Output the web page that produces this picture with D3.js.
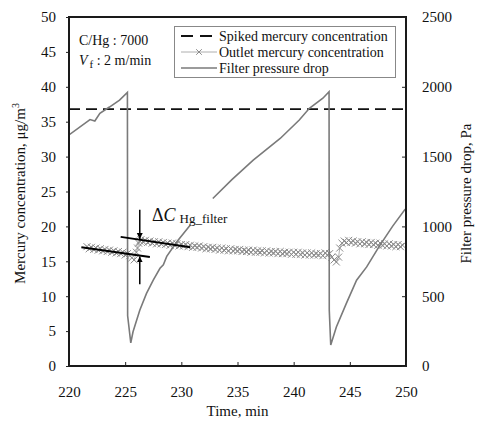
<!DOCTYPE html>
<meta charset="utf-8">
<style>
body { margin: 0; background: #fff; }
svg text { font-family: 'Liberation Serif', 'Times New Roman', 'DejaVu Serif', 'Noto Serif', serif; fill: #111; }
.tick text { font-size: 15px; }
.tick line { stroke: #222; }
.frame { fill: none; stroke: #1a1a1a; stroke-width: 2; }
.pdrop { fill: none; stroke: #7a7a7a; stroke-width: 1.6; }
.outlet { fill: none; stroke: #9a9a9a; stroke-width: 0.8; }
.mark { fill: none; stroke: #8c8c8c; stroke-width: 1; }
.spiked { stroke: #111; stroke-width: 1.8; stroke-dasharray: 11,6; }
.fit { stroke: #000; stroke-width: 2; }
.legendbox { fill: #fff; stroke: #888; stroke-width: 1; }
</style>
<body>
<script src="https://d3js.org/d3.v7.min.js"></script>
<script>

var width = 477,
    height = 426;

// filter pressure drop, Pa (null = gap in the logged trace)
var pdropTime = [220, 221.87, 222.3, 222.75, 223.6, 224.5, 225.2, 225.22, 225.5, 225.7, 226.3, 226.9, 227.5, 228.1, 228.4, 228.7, 229.6, 230.8, 231.8, 232.8, 234.5, 236.4, 238.8, 240.5, 241.4, 242.6, 243.15, 243.17, 243.3, 243.8, 244.7, 245.6, 246.5, 247.6, 248.8, 249.9, 250];
var pdropPa   = [1655, 1765, 1755, 1810, 1855, 1905, 1960, 360, 165, 245, 400, 520, 615, 700, 725, 785, 890, 1010, null, 1200, 1335, 1475, 1630, 1762, 1846, 1918, 1965, 400, 150, 280, 450, 615, 710, 855, 1000, 1120, 1125];

// outlet mercury concentration, ug/m3, logged every 0.2 min
var outletStep = 0.2;
var outletA0 = 221.6;
var outletA = [17.1, 16.8, 17.0, 16.7, 16.9, 16.6, 16.8, 16.5, 16.7, 16.4, 16.6, 16.3, 16.5, 16.2, 16.4, 16.1, 16.3, 15.9, 16.1, 15.8];
var outletB0 = 226.4;
var outletB = [18.1, 17.8, 18.0, 17.7, 17.9, 17.6, 17.8, 17.5, 17.8, 17.5, 17.7, 17.4, 17.6, 17.3, 17.6, 17.3, 17.5, 17.2, 17.4,
               17.2, 17.4, 17.1, 17.3, 17.0, 17.2, 17.0, 17.2, 16.9, 17.1, 16.8, 17.0, 16.8, 17.0, 16.7, 16.9, 16.6, 16.9, 16.6, 16.8, 16.5, 16.8, 16.5, 16.7, 16.5,
               16.7, 16.4, 16.6, 16.4, 16.6, 16.3, 16.6, 16.3, 16.5, 16.3, 16.5, 16.2, 16.5, 16.2, 16.4, 16.2, 16.4, 16.1, 16.4, 16.1, 16.3, 16.1, 16.3, 16.0, 16.3,
               16.0, 16.3, 16.0, 16.2, 15.9, 16.2, 15.9, 16.2, 15.9, 16.1, 15.9, 16.1, 15.8, 16.2, 15.9, 16.1];
var outletC0 = 244.5;
var outletC = [17.9, 17.7, 18.0, 17.7, 17.9, 17.6, 17.8, 17.5, 17.8, 17.5, 17.7, 17.4, 17.7, 17.4, 17.6, 17.3, 17.6, 17.3, 17.5, 17.2, 17.5, 17.2, 17.4, 17.1, 17.4, 17.1, 17.3];
// scattered readings right after each pulse cleaning
var jumpTime1 = [225.6, 225.8, 226.0, 226.1, 226.2, 226.3];
var jumpHg1   = [15.5, 15.2, 16.3, 16.9, 17.6, 17.9];
var jumpTime2 = [243.4, 243.6, 243.8, 244.0, 244.1, 244.3];
var jumpHg2   = [15.6, 15.2, 14.9, 15.6, 16.9, 17.6];

var spikedHg = 36.8;

// trend lines used for delta C
var fitBefore = [[221.1, 17.0], [227.2, 15.6]];
var fitAfter  = [[224.6, 18.5], [230.8, 17.0]];

var xTicks = [220, 225, 230, 235, 240, 245, 250];
var yTicksL = [0, 5, 10, 15, 20, 25, 30, 35, 40, 45, 50];
var yTicksR = [0, 500, 1000, 1500, 2000, 2500];

var legendLabels = ["Spiked mercury concentration", "Outlet mercury concentration", "Filter pressure drop"];

function run(t0, vals) {
  return vals.map((v, i) => [t0 + i * outletStep, v]);
}
var outlet = run(outletA0, outletA)
  .concat(jumpTime1.map((t, i) => [t, jumpHg1[i]]))
  .concat(run(outletB0, outletB))
  .concat(jumpTime2.map((t, i) => [t, jumpHg2[i]]))
  .concat(run(outletC0, outletC));

var x = d3.scaleLinear().domain([220, 250]).range([69, 406]);
var yL = d3.scaleLinear().domain([0, 50]).range([366, 17]);
var yR = d3.scaleLinear().domain([0, 2500]).range([366, 17]);

var svg = d3.select("body").append("svg")
    .attr("width", width)
    .attr("height", height);

svg.append("clipPath").attr("id", "plot")
  .append("rect")
    .attr("x", x(220)).attr("y", yL(50))
    .attr("width", x(250) - x(220)).attr("height", yL(0) - yL(50));

var plot = svg.append("g").attr("clip-path", "url(#plot)");

// spiked concentration
plot.append("line")
    .attr("class", "spiked")
    .attr("x1", x(220)).attr("x2", x(250))
    .attr("y1", yL(spikedHg)).attr("y2", yL(spikedHg));

// outlet concentration
var outletLine = d3.line().x(d => x(d[0])).y(d => yL(d[1]));
plot.append("path").datum(outlet)
    .attr("class", "outlet")
    .attr("d", outletLine);

var cross = d3.symbol(d3.symbolX).size(34);
plot.append("g").selectAll("path").data(outlet)
  .enter().append("path")
    .attr("class", "mark")
    .attr("transform", d => "translate(" + x(d[0]) + "," + yL(d[1]) + ")")
    .attr("d", cross);

// pressure drop
var pLine = d3.line()
    .defined(d => d != null)
    .x((d, i) => x(pdropTime[i])).y(d => yR(d));
plot.append("path").datum(pdropPa)
    .attr("class", "pdrop")
    .attr("d", pLine);

// trend lines
[fitBefore, fitAfter].forEach(f => {
  svg.append("line")
      .attr("class", "fit")
      .attr("x1", x(f[0][0])).attr("y1", yL(f[0][1]))
      .attr("x2", x(f[1][0])).attr("y2", yL(f[1][1]));
});

// delta C arrows
svg.append("defs").append("marker")
    .attr("id", "head")
    .attr("viewBox", "0 0 10 10")
    .attr("refX", 10).attr("refY", 5)
    .attr("markerWidth", 6).attr("markerHeight", 8)
    .attr("markerUnits", "userSpaceOnUse")
    .attr("orient", "auto")
  .append("path")
    .attr("d", "M0,0L10,5L0,10Z")
    .attr("fill", "#000");

var ax = x(226.3);
svg.append("line")
    .attr("x1", ax).attr("x2", ax)
    .attr("y1", yL(22.4)).attr("y2", yL(18.2))
    .attr("stroke", "#000").attr("stroke-width", 1.5)
    .attr("marker-end", "url(#head)");
svg.append("line")
    .attr("x1", ax).attr("x2", ax)
    .attr("y1", yL(11.7)).attr("y2", yL(15.7))
    .attr("stroke", "#000").attr("stroke-width", 1.5)
    .attr("marker-end", "url(#head)");

var dc = svg.append("text")
    .attr("x", 152).attr("y", 221)
    .style("font-size", "18px");
dc.append("tspan").text("\u0394");
dc.append("tspan").style("font-style", "italic").text("C");
dc.append("tspan").attr("dx", 4).attr("dy", 2).style("font-size", "13px").text("Hg_filter");

// frame and axes
svg.append("rect")
    .attr("class", "frame")
    .attr("x", x(220)).attr("y", yL(50))
    .attr("width", x(250) - x(220)).attr("height", yL(0) - yL(50));

var gx = svg.append("g")
    .attr("transform", "translate(0," + yL(0) + ")")
    .call(d3.axisBottom(x).tickValues(xTicks).tickSizeInner(-4).tickSizeOuter(0).tickPadding(20));
var gl = svg.append("g")
    .attr("transform", "translate(" + x(220) + ",0)")
    .call(d3.axisLeft(yL).tickValues(yTicksL).tickSizeInner(3).tickSizeOuter(0).tickPadding(10));
var gr = svg.append("g")
    .attr("transform", "translate(" + x(250) + ",0)")
    .call(d3.axisRight(yR).tickValues(yTicksR).tickFormat(d3.format("d")).tickSizeInner(-4).tickSizeOuter(0).tickPadding(16));
[gx, gl, gr].forEach(g => {
  g.select(".domain").remove();
  g.attr("font-family", null).attr("font-size", null);
});

// axis titles
svg.append("text")
    .attr("x", (x(220) + x(250)) / 2).attr("y", 416)
    .attr("text-anchor", "middle")
    .style("font-size", "15px")
    .text("Time, min");

var tl = svg.append("text")
    .attr("transform", "translate(25," + (yL(25) + 2) + ") rotate(-90)")
    .attr("text-anchor", "middle")
    .style("font-size", "15px");
tl.append("tspan").text("Mercury concentration, \u03bcg/m");
tl.append("tspan").attr("dy", -6).style("font-size", "10px").text("3");

svg.append("text")
    .attr("transform", "translate(466," + (yR(1250) + 2) + ") rotate(-90)")
    .attr("text-anchor", "middle")
    .attr("dy", "0.35em")
    .style("font-size", "15px")
    .text("Filter pressure drop, Pa");

// condition notes
svg.append("text")
    .attr("x", 79).attr("y", 45)
    .style("font-size", "14px")
    .text("C/Hg : 7000");
var vf = svg.append("text")
    .attr("x", 79).attr("y", 65)
    .style("font-size", "14px");
vf.append("tspan").style("font-style", "italic").text("V");
vf.append("tspan").attr("dx", 2).attr("dy", 3).style("font-size", "11px").text("f");
vf.append("tspan").attr("dy", -3).text(" : 2 m/min");

// legend
var lg = svg.append("g");
lg.append("rect")
    .attr("class", "legendbox")
    .attr("x", 174.5).attr("y", 26.5)
    .attr("width", 221).attr("height", 51);
var rows = lg.selectAll(".row").data(legendLabels)
  .enter().append("g")
    .attr("transform", (d, i) => "translate(181," + (36 + i * 16) + ")");
rows.append("text")
    .attr("x", 38).attr("dy", "0.35em")
    .style("font-size", "14px")
    .text(d => d);
rows.filter((d, i) => i == 0).append("line")
    .attr("class", "spiked").attr("x1", 0).attr("x2", 35)
    .style("stroke-dasharray", "12,7");
rows.filter((d, i) => i == 1).append("line")
    .attr("class", "outlet").attr("x1", 0).attr("x2", 36);
rows.filter((d, i) => i == 1).append("path")
    .attr("class", "mark")
    .attr("transform", "translate(18,0)")
    .attr("d", d3.symbol(d3.symbolX).size(22));
rows.filter((d, i) => i == 2).append("line")
    .attr("class", "pdrop").attr("x1", 0).attr("x2", 36);

</script>
